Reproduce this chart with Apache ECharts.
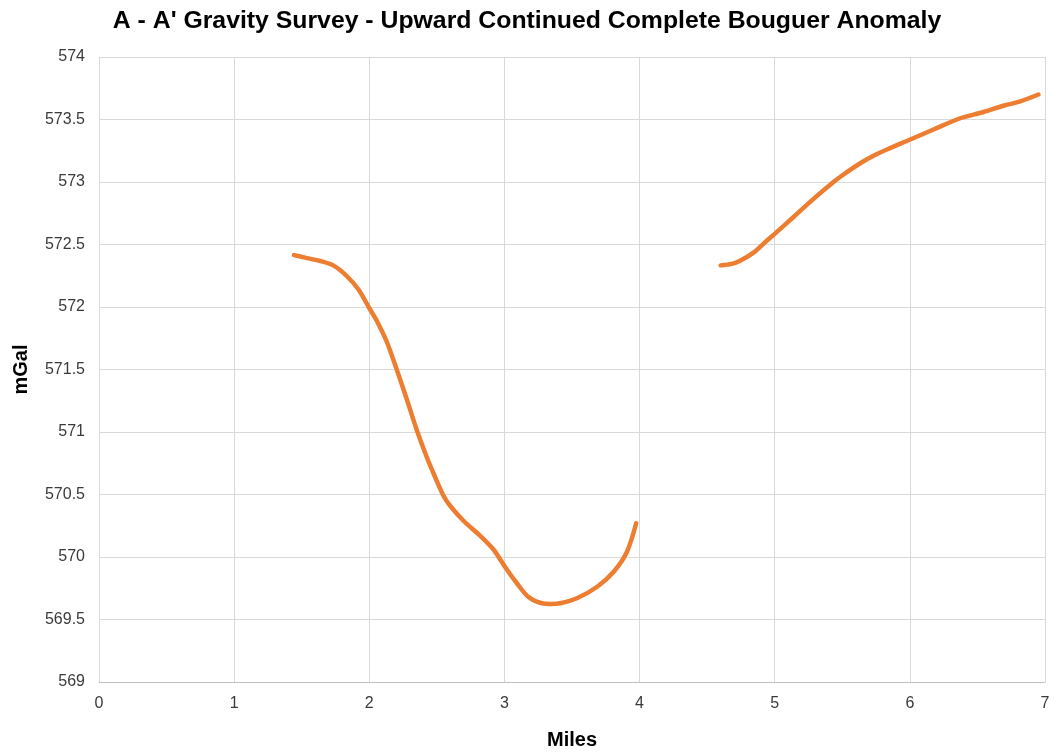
<!DOCTYPE html>
<html>
<head>
<meta charset="utf-8">
<script src="https://cdn.jsdelivr.net/npm/echarts@6/dist/echarts.min.js"></script>
<style>
  html, body { margin: 0; padding: 0; background: #fff; }
  #chart { width: 1054px; height: 755px; }
</style>
</head>
<body>
<div id="chart"></div>
<script>
// Profile A - A' : distance along profile (miles) and upward continued CBA (mGal)
const westMiles = [1.443, 1.525, 1.63, 1.734, 1.833, 1.92, 2.006, 2.055, 2.13, 2.203, 2.278, 2.35, 2.425, 2.475, 2.549, 2.598, 2.697, 2.82, 2.919, 3.005, 3.092, 3.178, 3.277, 3.345, 3.412, 3.536, 3.684, 3.807, 3.906, 3.975];
const westMgal  = [572.415, 572.395, 572.37, 572.333, 572.248, 572.14, 571.98, 571.89, 571.72, 571.5, 571.26, 571.02, 570.80, 570.67, 570.49, 570.41, 570.29, 570.17, 570.06, 569.92, 569.79, 569.68, 569.63, 569.625, 569.63, 569.67, 569.76, 569.88, 570.04, 570.27];

const eastMiles = [4.60, 4.682, 4.744, 4.843, 4.941, 5.01, 5.139, 5.287, 5.435, 5.509, 5.633, 5.731, 5.83, 6.003, 6.175, 6.373, 6.545, 6.693, 6.817, 6.952];
const eastMgal  = [572.333, 572.345, 572.37, 572.435, 572.53, 572.595, 572.72, 572.865, 573.0, 573.06, 573.15, 573.21, 573.26, 573.34, 573.42, 573.51, 573.56, 573.61, 573.645, 573.70];

const xTicks = { min: 0, max: 7, interval: 1 };
const yTicks = { min: 569, max: 574, interval: 0.5 };

const pairs = (xs, ys) => xs.map((x, i) => [x, ys[i]]);

const lineColor = '#ED7D31';
const font = '"Liberation Sans", Arial, sans-serif';

const profileSeries = (data) => ({
  type: 'line',
  data: data,
  smooth: 0.3,
  showSymbol: false,
  lineStyle: { color: lineColor, width: 4.5, cap: 'round', join: 'round' },
  itemStyle: { color: lineColor }
});

const chart = echarts.init(document.getElementById('chart'));
chart.setOption({
  animation: false,
  title: {
    text: "A - A' Gravity Survey - Upward Continued Complete Bouguer Anomaly",
    left: 'center',
    top: 4,
    textStyle: { fontFamily: font, fontSize: 24.8, fontWeight: 'bold', color: '#000' }
  },
  grid: { left: 99, right: 9, top: 57, bottom: 71 },
  xAxis: {
    type: 'value',
    min: xTicks.min, max: xTicks.max, interval: xTicks.interval,
    name: 'Miles',
    nameLocation: 'middle',
    nameGap: 48,
    nameTextStyle: { fontFamily: font, fontSize: 20, fontWeight: 'bold', color: '#000' },
    axisLine: { show: true, lineStyle: { color: '#bfbfbf', width: 1 } },
    axisTick: { show: false },
    axisLabel: { fontFamily: font, fontSize: 16, color: '#3a3a3a', margin: 14 },
    splitLine: { show: true, lineStyle: { color: '#d9d9d9', width: 1 } }
  },
  yAxis: {
    type: 'value',
    min: yTicks.min, max: yTicks.max, interval: yTicks.interval,
    name: 'mGal',
    nameLocation: 'middle',
    nameGap: 68,
    nameRotate: 90,
    nameTextStyle: { fontFamily: font, fontSize: 20, fontWeight: 'bold', color: '#000' },
    axisLine: { show: false },
    axisTick: { show: false },
    axisLabel: { fontFamily: font, fontSize: 16, color: '#3a3a3a', margin: 14 },
    splitLine: { show: true, lineStyle: { color: '#d9d9d9', width: 1 } }
  },
  series: [
    profileSeries(pairs(westMiles, westMgal)),
    profileSeries(pairs(eastMiles, eastMgal))
  ]
});
</script>
</body>
</html>
